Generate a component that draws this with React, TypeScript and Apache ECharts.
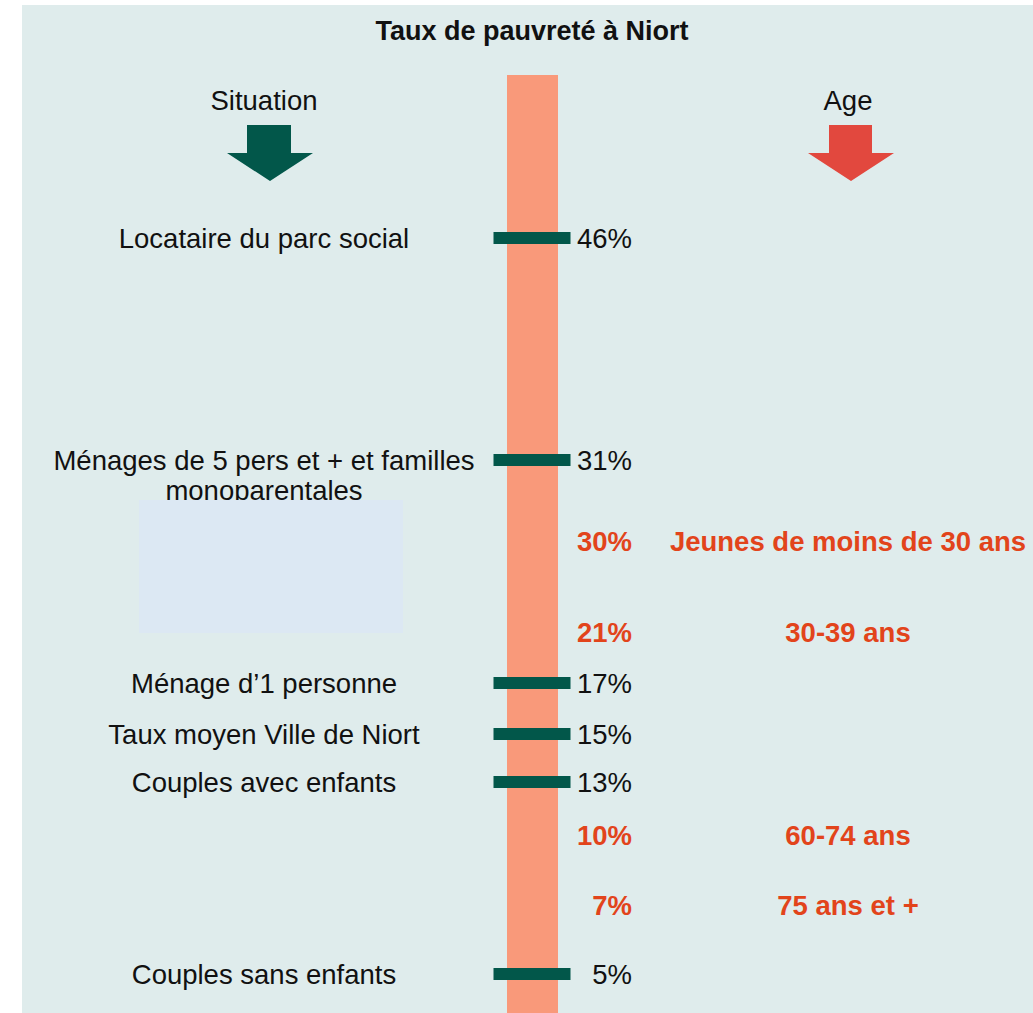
import React, { useEffect, useRef } from "react";
import * as echarts from "echarts";

// ---- Data ----
const situationLabels = [
  "Locataire du parc social",
  "Ménages de 5 pers et + et familles\nmonoparentales",
  "Ménage d’1 personne",
  "Taux moyen Ville de Niort",
  "Couples avec enfants",
  "Couples sans enfants",
];
const situationValues = [46, 31, 17, 15, 13, 5];

const ageLabels = ["Jeunes de moins de 30 ans", "30-39 ans", "60-74 ans", "75 ans et +"];
const ageValues = [30, 21, 10, 7];

// Vertical layout order of the infographic (row slots, not proportional to value)
const situationSlots = [11.25, 22.35, 33.5, 36.05, 38.45, 48.05];
const ageSlots = [26.4, 30.95, 41.1, 44.6];

const TITLE = "Taux de pauvreté à Niort";
const HEAD_LEFT = "Situation";
const HEAD_RIGHT = "Age";

const FONT = "'Liberation Sans', Arial, sans-serif";
const GREEN = "#02574a";
const RED = "#e2441b";
const TXT = "#111111";
const FS = 27.5;

export default function App() {
  const ref = useRef<HTMLDivElement>(null);

  useEffect(() => {
    if (!ref.current) return;
    const chart = echarts.init(ref.current, undefined, { renderer: "svg" });

    const sitData = situationValues.map((v, i) => ({
      value: [0, situationSlots[i]],
      pct: v,
      name: situationLabels[i],
    }));
    const ageData = ageValues.map((v, i) => ({
      value: [0, ageSlots[i]],
      pct: v,
      name: ageLabels[i],
    }));

    const option: any = {
      animation: false,
      backgroundColor: "#ffffff",
      textStyle: { fontFamily: FONT },
      grid: { left: 31, right: 0, top: 13, bottom: 0 },
      xAxis: { type: "value", min: -1, max: 1, show: false },
      yAxis: { type: "value", min: 0, max: 50, inverse: true, show: false },
      graphic: [
        {
          type: "rect",
          z: -10,
          shape: { x: 22, y: 5, width: 1011, height: 1008 },
          style: { fill: "#dfecec" },
        },
        {
          type: "rect",
          z: -5,
          shape: { x: 507, y: 75, width: 51, height: 938 },
          style: { fill: "#f9997a" },
        },
        {
          type: "text",
          x: 532,
          y: 31,
          style: {
            text: TITLE,
            fontFamily: FONT,
            fontSize: 27,
            fontWeight: "bold",
            fill: "#111",
            textAlign: "center",
            textVerticalAlign: "middle",
          },
        },
        {
          type: "text",
          x: 264,
          y: 100,
          style: {
            text: HEAD_LEFT,
            fontFamily: FONT,
            fontSize: FS,
            fill: TXT,
            textAlign: "center",
            textVerticalAlign: "middle",
          },
        },
        {
          type: "text",
          x: 848,
          y: 100,
          style: {
            text: HEAD_RIGHT,
            fontFamily: FONT,
            fontSize: FS,
            fill: TXT,
            textAlign: "center",
            textVerticalAlign: "middle",
          },
        },
        {
          type: "polygon",
          shape: {
            points: [
              [247, 125],
              [291, 125],
              [291, 153],
              [313, 153],
              [270, 181],
              [227, 153],
              [247, 153],
            ],
          },
          style: { fill: GREEN },
        },
        {
          type: "polygon",
          shape: {
            points: [
              [829, 125],
              [872, 125],
              [872, 153],
              [894, 153],
              [851, 181],
              [808, 153],
              [829, 153],
            ],
          },
          style: { fill: "#e2483e" },
        },
        {
          type: "rect",
          z: 100,
          shape: { x: 139, y: 500, width: 264, height: 133 },
          style: { fill: "#dce8f3" },
        },
      ],
      series: [
        {
          name: "situation-names",
          type: "scatter",
          symbolSize: 0,
          silent: true,
          itemStyle: { opacity: 1 },
          data: sitData,
          label: {
            show: true,
            position: "inside",
            align: "center",
            verticalAlign: "top",
            offset: [-268, -15],
            lineHeight: 30,
            fontFamily: FONT,
            fontSize: FS,
            color: TXT,
            formatter: (p: any) => p.data.name,
          },
        },
        {
          name: "situation",
          type: "scatter",
          symbol: "rect",
          symbolSize: [77, 12],
          itemStyle: { color: GREEN, opacity: 1 },
          silent: true,
          z: 5,
          data: sitData,
          label: {
            show: true,
            position: "inside",
            align: "right",
            verticalAlign: "middle",
            offset: [100, 0],
            fontFamily: FONT,
            fontSize: FS,
            color: TXT,
            formatter: (p: any) => p.data.pct + "%",
          },
        },
        {
          name: "age-values",
          type: "scatter",
          symbolSize: 0,
          silent: true,
          itemStyle: { opacity: 1 },
          data: ageData,
          label: {
            show: true,
            position: "inside",
            align: "right",
            verticalAlign: "middle",
            offset: [100, 0],
            fontFamily: FONT,
            fontSize: FS,
            fontWeight: "bold",
            color: RED,
            formatter: (p: any) => p.data.pct + "%",
          },
        },
        {
          name: "age-names",
          type: "scatter",
          symbolSize: 0,
          silent: true,
          itemStyle: { opacity: 1 },
          data: ageData,
          label: {
            show: true,
            position: "inside",
            align: "center",
            verticalAlign: "middle",
            offset: [316, 0],
            fontFamily: FONT,
            fontSize: FS,
            fontWeight: "bold",
            color: RED,
            formatter: (p: any) => p.data.name,
          },
        },
      ],
    };

    chart.setOption(option);
    return () => chart.dispose();
  }, []);

  return (
    <div
      ref={ref}
      style={{ position: "fixed", left: 0, top: 0, width: 1033, height: 1013 }}
    />
  );
}
